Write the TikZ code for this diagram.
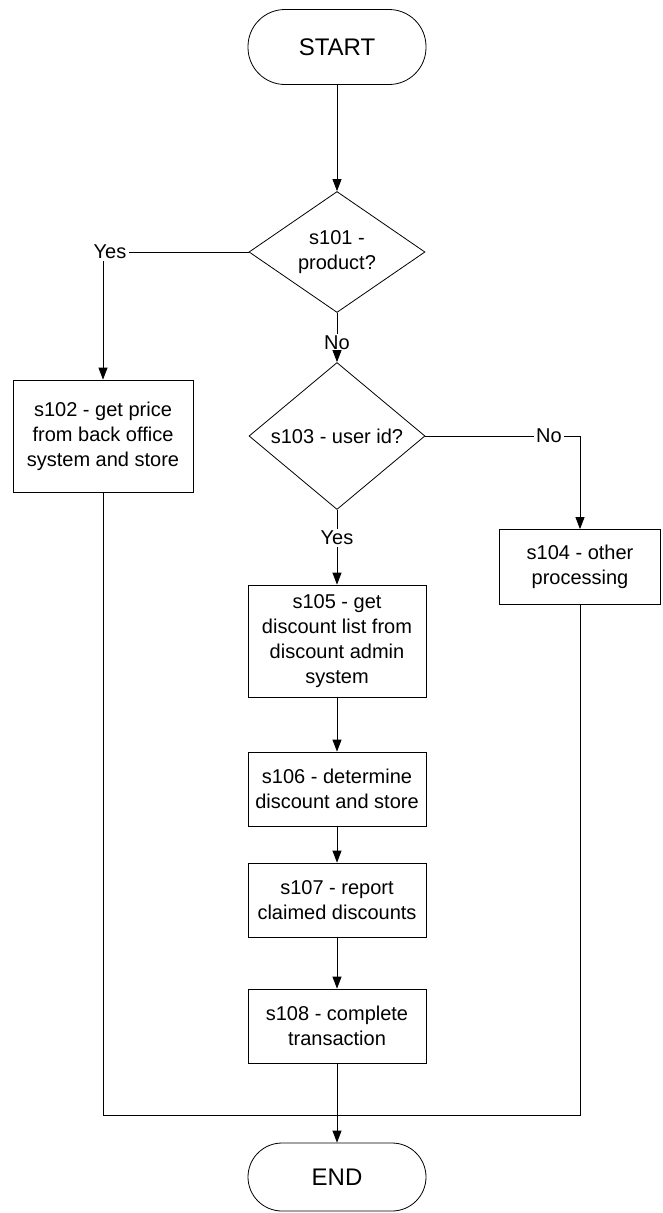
\documentclass[tikz,border=0pt]{standalone}
\usepackage{fontspec}
\setmainfont{Liberation Sans}
\usetikzlibrary{shapes.geometric,arrows.meta}

\begin{document}
\begin{tikzpicture}[x=1pt,y=-1pt,line width=0.8pt,
  font=\fontsize{20}{25}\selectfont,
  terminal/.style={draw,rectangle,inner sep=0pt,minimum width=178pt,
    font=\fontsize{24}{28}\selectfont},
  decision/.style={draw,diamond,align=center,inner sep=0pt,
    minimum width=176pt,minimum height=110pt},
  process/.style={draw,rectangle,align=center,inner sep=0pt,
    minimum width=178pt,minimum height=74pt},
  lbl/.style={inner sep=2pt},
  flow/.style={-{Triangle[length=12pt,width=9pt]}}]

\useasboundingbox (0,0) rectangle (663,1213);

\def\colx{337}

%====================================================
% Start and first decision
%====================================================
\node[terminal,minimum height=75pt,rounded corners=37pt] (start) at (\colx,47) {START};
\node[decision] (s101) at (\colx,252) {s101 -\\product?};

%====================================================
% Left branch : product
%====================================================
\node[process,minimum width=180pt,minimum height=112pt] (s102) at (103,436)
  {s102 - get price\\from back office\\system and store};

%====================================================
% Middle column
%====================================================
\node[decision,minimum height=108pt] (s103) at (\colx,436) {s103 - user id?};
\node[process,minimum height=112pt] (s105) at (\colx,641)
  {s105 - get\\discount list from\\discount admin\\system};
\node[process] (s106) at (\colx,789) {s106 - determine\\discount and store};
\node[process] (s107) at (\colx,900) {s107 - report\\claimed discounts};
\node[process] (s108) at (\colx,1026) {s108 - complete\\transaction};
\node[terminal,minimum height=68pt,rounded corners=34pt] (end) at (\colx,1177) {END};

%====================================================
% Right branch : other
%====================================================
\node[process,minimum width=161pt,minimum height=75pt] (s104) at (580,567)
  {s104 - other\\processing};

% Labels
\node[lbl] (yes1) at (110,252) {Yes};
\node[lbl] (no1) at (\colx,343) {No};
\node[lbl] (no2) at (549,436) {No};
\node[lbl] (yes2) at (\colx,538) {Yes};

% Arrows
\draw[flow] (start)--(s101);

\draw (s101.west)--(yes1.east);
\draw[flow] (s102.north |- yes1.south)--(s102.north);

\draw (s101.south)--(no1.north);
\draw[flow] (no1.south)--(s103.north);

\draw (s103.east)--(no2.west);
\draw[flow] (no2.east) -| (s104.north);

\draw (s103.south)--(yes2.north);
\draw[flow] (yes2.south)--(s105.north);

\draw[flow] (s105)--(s106);
\draw[flow] (s106)--(s107);
\draw[flow] (s107)--(s108);

% Join to END
\coordinate (join) at (\colx,1115);
\draw (s102.south) |- (join) -| (s104.south);
\draw[flow] (s108)--(end);

\end{tikzpicture}
\end{document}
